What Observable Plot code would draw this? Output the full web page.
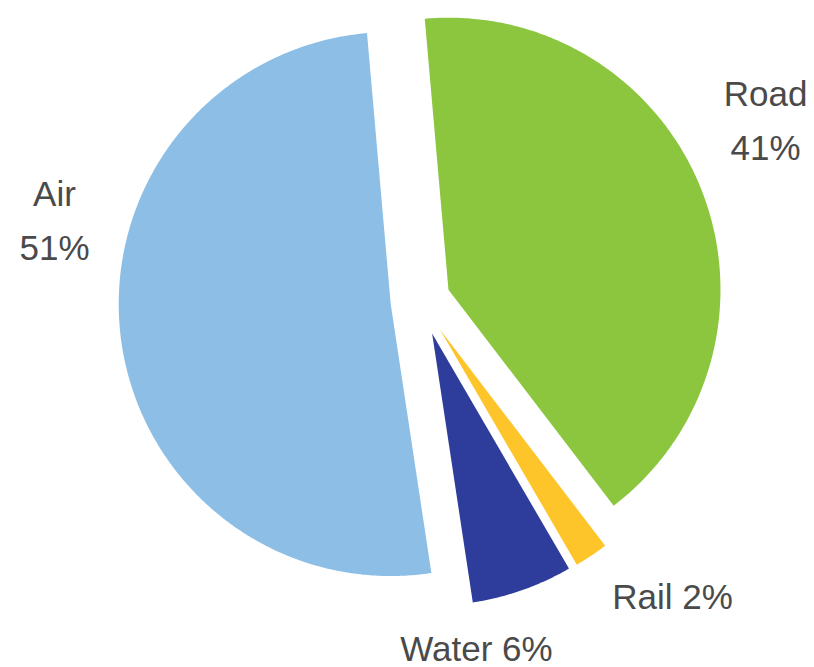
<!DOCTYPE html>
<html>
<head>
<meta charset="utf-8">
<script src="https://cdn.jsdelivr.net/npm/d3@7"></script>
<script src="https://cdn.jsdelivr.net/npm/@observablehq/plot@0.6"></script>
<style>
  html, body { margin: 0; padding: 0; background: #ffffff; }
  #chart svg { display: block; }
</style>
</head>
<body>
<div id="chart"></div>
<script>
// ---- data ----
const categories = ["Road", "Rail", "Water", "Air"];
const shares = [41, 2, 6, 51];
const labelLines = [["Road", "41%"], ["Rail 2%"], ["Water 6%"], ["Air", "51%"]];

// ---- styles / layout ----
const colors = ["#8cc63f", "#fdc52a", "#2e3d9c", "#8dbfe6"];
const W = 814, H = 667;
const center = [420, 300];
const radius = 272;
const startDeg = -5;
const explode = {Road: 30, Rail: 35, Water: 35, Air: 30};
const labelAnchor = {Road: [765, 105], Rail: [672, 608], Water: [476, 660], Air: [54, 205]};
const lineStep = 54;

const table = categories.map((c, i) => ({name: c, value: shares[i]}));
const arcs = d3.pie().value(d => d.value).sort(null)
  .startAngle(startDeg * Math.PI / 180)
  .endAngle((startDeg + 360) * Math.PI / 180)(table);

const pts = [];
for (const a of arcs) {
  const mid = (a.startAngle + a.endAngle) / 2;
  const off = explode[a.data.name];
  const ox = center[0] + off * Math.sin(mid);
  const oy = center[1] - off * Math.cos(mid);
  pts.push({name: a.data.name, x: ox, y: oy});
  const n = Math.max(4, Math.ceil((a.endAngle - a.startAngle) / (Math.PI / 360)));
  for (let k = 0; k <= n; k++) {
    const t = a.startAngle + (a.endAngle - a.startAngle) * k / n;
    pts.push({name: a.data.name, x: ox + radius * Math.sin(t), y: oy - radius * Math.cos(t)});
  }
  pts.push({name: a.data.name, x: ox, y: oy});
}

const labels = [];
categories.forEach((c, i) => {
  labelLines[i].forEach((txt, j) => {
    labels.push({name: c, text: txt, x: labelAnchor[c][0], y: labelAnchor[c][1] + j * lineStep});
  });
});

const chart = Plot.plot({
  width: W,
  height: H,
  margin: 0,
  style: {background: "#ffffff", fontFamily: "'Liberation Sans', Arial, sans-serif"},
  x: {domain: [0, W], range: [0, W], axis: null},
  y: {domain: [0, H], range: [0, H], axis: null},
  color: {domain: categories, range: colors},
  marks: [
    Plot.line(pts, {x: "x", y: "y", z: "name", fill: "name", stroke: "none", curve: "linear"}),
    Plot.text(labels, {x: "x", y: "y", text: "text", textAnchor: "middle", lineAnchor: "bottom",
      fontSize: 35, fill: "#4a4a4a"})
  ]
});
document.getElementById("chart").appendChild(chart);
</script>
</body>
</html>
